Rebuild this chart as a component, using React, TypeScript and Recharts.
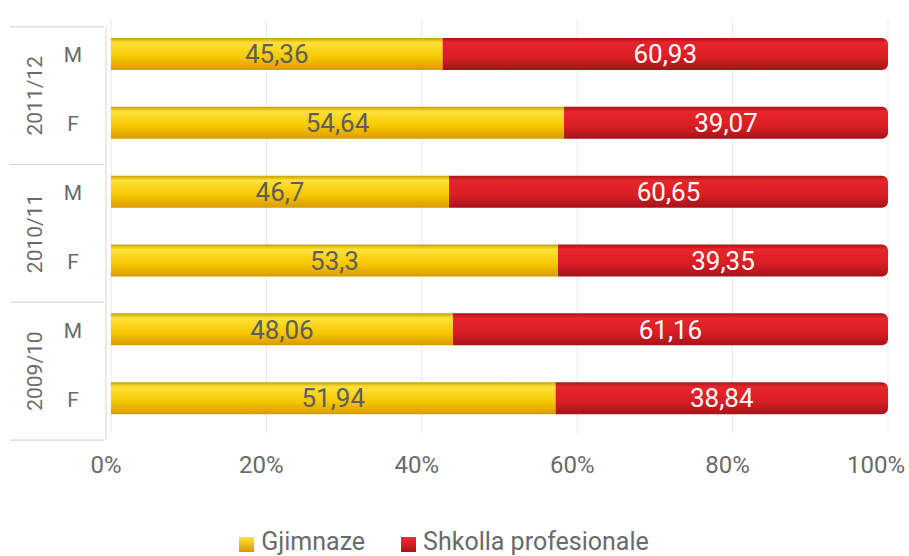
import { BarChart, Bar, XAxis, YAxis, CartesianGrid, Legend, LabelList } from 'recharts'

const years = ['2011/12', '2011/12', '2010/11', '2010/11', '2009/10', '2009/10']
const sexes = ['M', 'F', 'M', 'F', 'M', 'F']
const gjimnaze = [45.36, 54.64, 46.7, 53.3, 48.06, 51.94]
const profesionale = [60.93, 39.07, 60.65, 39.35, 61.16, 38.84]
const xTicks = [0, 0.2, 0.4, 0.6, 0.8, 1]

const fmt = (v: number) => String(v).replace('.', ',')

const data = sexes.map((s, i) => ({
  key: `${years[i]}-${s}`,
  sex: s,
  year: years[i],
  g: gjimnaze[i],
  s: profesionale[i],
  gLabel: fmt(gjimnaze[i]),
  sLabel: fmt(profesionale[i]),
}))

const ROW = 69
const SHIFT = 7
const GRAY = '#6a6a6a'
const FONT = 'Roboto, "DejaVu Sans", sans-serif'

function CategoryTick(props: any) {
  const { y, index } = props
  const row = data[index]
  const top = y - ROW / 2 + SHIFT
  const bottom = y + ROW / 2 + SHIFT
  return (
    <g>
      <line x1={106} x2={106} y1={top} y2={bottom} stroke="#d6d6d6" />
      <text x={73} y={y} dy={8} textAnchor="middle" fontSize={21} fill={GRAY} fontFamily={FONT}>
        {row.sex}
      </text>
      {index % 2 === 0 && <line x1={10} x2={104} y1={top} y2={top} stroke="#cfcfcf" />}
      {index === data.length - 1 && <line x1={10} x2={104} y1={bottom} y2={bottom} stroke="#cfcfcf" />}
      {index % 2 === 1 && (
        <text
          x={35}
          y={top}
          transform={`rotate(-90 35 ${top})`}
          dy={7}
          textAnchor="middle"
          fontSize={21}
          fill={GRAY}
          fontFamily={FONT}
        >
          {row.year}
        </text>
      )}
    </g>
  )
}

const legendItems = [
  { label: 'Gjimnaze', from: '#ffe23a', to: '#d99a00' },
  { label: 'Shkolla profesionale', from: '#ee3036', to: '#a5141a' },
]

function LegendContent() {
  return (
    <div style={{ display: 'flex', justifyContent: 'center', gap: 36, fontFamily: FONT, fontSize: 25, color: GRAY }}>
      {legendItems.map((it) => (
        <span key={it.label} style={{ display: 'inline-flex', alignItems: 'center' }}>
          <span
            style={{
              display: 'inline-block',
              width: 15,
              height: 15,
              marginRight: 7,
              marginTop: 5,
              background: `linear-gradient(${it.from}, ${it.to})`,
            }}
          />
          {it.label}
        </span>
      ))}
    </div>
  )
}

export default function App() {
  return (
    <div style={{ position: 'absolute', left: 0, top: 0, background: '#fff' }}>
      <BarChart
        width={909}
        height={556}
        data={data}
        layout="vertical"
        stackOffset="expand"
        barSize={32}
        margin={{ top: 20, right: 21, bottom: 0, left: 0 }}
      >
        <defs>
          <linearGradient id="gYellow" x1="0" y1="0" x2="0" y2="1">
            <stop offset="0%" stopColor="#c9a000" />
            <stop offset="15%" stopColor="#ffe23a" />
            <stop offset="60%" stopColor="#f7c800" />
            <stop offset="100%" stopColor="#d99a00" />
          </linearGradient>
          <linearGradient id="gRed" x1="0" y1="0" x2="0" y2="1">
            <stop offset="0%" stopColor="#a8141a" />
            <stop offset="15%" stopColor="#e8262c" />
            <stop offset="60%" stopColor="#d81e24" />
            <stop offset="100%" stopColor="#a5141a" />
          </linearGradient>
        </defs>
        <CartesianGrid horizontal={false} stroke="#e8e8e8" />
        <XAxis
          type="number"
          domain={[0, 1]}
          ticks={xTicks}
          tickFormatter={(v: number) => `${Math.round(v * 100)}%`}
          tick={{ fontSize: 24, fill: GRAY, fontFamily: FONT, dx: -5 }}
          tickLine={false}
          axisLine={false}
          tickMargin={17}
          height={94}
        />
        <YAxis
          type="category"
          dataKey="key"
          width={111}
          tick={<CategoryTick />}
          tickLine={false}
          axisLine={false}
          interval={0}
        />
        <Legend verticalAlign="bottom" content={<LegendContent />} />
        <Bar dataKey="g" name="Gjimnaze" stackId="a" fill="url(#gYellow)" isAnimationActive={false}>
          <LabelList dataKey="gLabel" position="center" fill="#5e5e5e" fontSize={26} fontFamily={FONT} />
        </Bar>
        <Bar
          dataKey="s"
          name="Shkolla profesionale"
          stackId="a"
          fill="url(#gRed)"
          radius={[0, 6, 6, 0]}
          isAnimationActive={false}
        >
          <LabelList dataKey="sLabel" position="center" fill="#fff" fontSize={26} fontFamily={FONT} />
        </Bar>
      </BarChart>
    </div>
  )
}
